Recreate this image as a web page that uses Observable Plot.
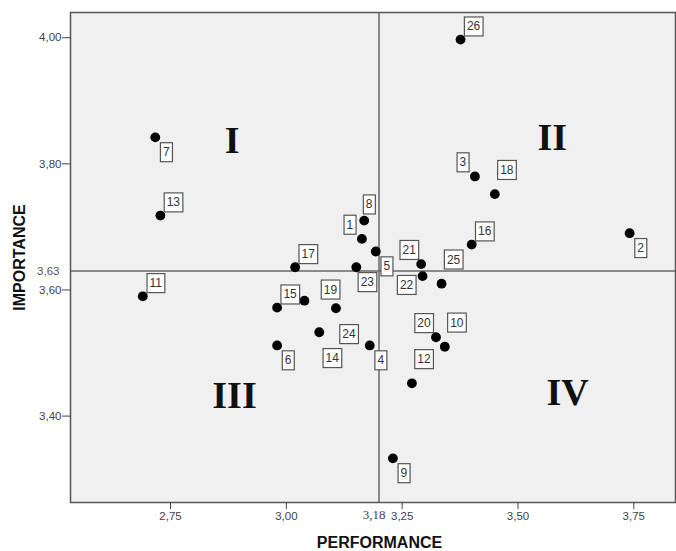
<!DOCTYPE html>
<html><head><meta charset="utf-8">
<script src="https://cdn.jsdelivr.net/npm/d3@7"></script>
<script src="https://cdn.jsdelivr.net/npm/@observablehq/plot@0.6"></script>
<style>
body{margin:0;background:#fff;}
#chart{position:relative;width:676px;height:551px;}
</style>
</head><body><div id="chart"></div>
<script>
// Items (attributes) of the importance-performance analysis
const itemIds = [1,2,3,4,5,6,7,8,9,10,11,12,13,14,15,16,17,18,19,20,21,22,23,24,25,26];
const performance = [3.163,3.741,3.407,3.180,3.193,2.980,2.717,3.168,3.230,3.342,2.690,3.271,2.728,
                     3.071,2.980,3.400,3.019,3.450,3.039,3.323,3.291,3.294,3.151,3.107,3.335,3.376];
const importance  = [3.681,3.690,3.780,3.512,3.661,3.512,3.842,3.710,3.333,3.510,3.590,3.452,3.718,
                     3.533,3.572,3.672,3.636,3.752,3.583,3.525,3.641,3.622,3.636,3.571,3.610,3.997];
// where the id box sits relative to its point
const labelPlacement = ["nw","se","nw","se","se","se","se","n","se","NE","ne","NE","ne",
                        "SE","ne","ne","ne","NE","e","nw","nw","sw","se","SE","NE","ne"];

const quadrantNames = ["I","II","III","IV"];
const quadrantPerformance = [2.883,3.574,2.888,3.607];
const quadrantImportance  = [3.837,3.841,3.432,3.437];

const xTicks = [2.75,3.00,3.25,3.50,3.75];
const yTicks = [3.40,3.60,3.80,4.00];
const refPerformance = 3.20, refPerformanceLabel = "3,18";
const refImportance = 3.63, refImportanceLabel = "3,63";
const xTitle = "PERFORMANCE", yTitle = "IMPORTANCE";

const fmt = d => d.toFixed(2).replace(".", ",");
const offsets = {ne:[13,-13], NE:[12,-24], se:[11,15], SE:[13,26], nw:[-12,-14], sw:[-16,9], n:[5,-16], e:[26,-11]};
const data = itemIds.map((id,i)=>({id:String(id), x:performance[i], y:importance[i], p:labelPlacement[i]}));
const quads = quadrantNames.map((n,i)=>({n, x:quadrantPerformance[i], y:quadrantImportance[i]}));

const labelMarks = Object.entries(offsets).map(([k,[dx,dy]]) =>
  Plot.text(data.filter(d=>d.p===k), {x:"x", y:"y", text:"id", dx, dy, fill:"#333",
    fontSize:12, fontFamily:"Arial, 'Liberation Sans', sans-serif", className:"idlab"}));

const chart = Plot.plot({
  width:676, height:551, marginLeft:70, marginRight:1, marginTop:12, marginBottom:49,
  style:{fontFamily:"Arial, 'Liberation Sans', sans-serif", fontSize:"11.5px", color:"#444", background:"#fff", overflow:"visible"},
  x:{domain:[2.534,3.84], label:null},
  y:{domain:[3.263,4.04], label:null},
  marks:[
    Plot.frame({fill:"#f0f0f0", stroke:null}),
    Plot.ruleX([refPerformance], {stroke:"#6a6a6a", strokeWidth:1.5}),
    Plot.ruleY([refImportance], {stroke:"#6a6a6a", strokeWidth:1.5}),
    Plot.frame({stroke:"#555", strokeWidth:1.5}),
    Plot.axisX({ticks:xTicks, tickFormat:fmt, tickSize:7, tickPadding:2, stroke:"#444", fill:"#444", label:null}),
    Plot.axisY({ticks:yTicks, tickFormat:fmt, tickSize:8, tickPadding:1, stroke:"#444", fill:"#444", label:null}),
    Plot.text([refImportance], {y:d=>d, frameAnchor:"left", text:()=>refImportanceLabel, textAnchor:"end", dx:-11, fill:"#555", fontSize:11.5}),
    Plot.text([refPerformance], {x:d=>d, frameAnchor:"bottom", text:()=>refPerformanceLabel, dx:-5, dy:16, fill:"#444",
      fontSize:13, fontFamily:"'Liberation Serif', 'Times New Roman', serif"}),
    Plot.dot(data, {x:"x", y:"y", r:4.9, fill:"#000", stroke:null}),
    ...labelMarks,
    Plot.text(quads, {x:"x", y:"y", text:"n", fontSize:38, fontWeight:"bold", fill:"#111",
      fontFamily:"'Liberation Serif', 'Times New Roman', serif"}),
    Plot.text([yTitle], {frameAnchor:"left", text:d=>d, rotate:-90, textAnchor:"middle", lineAnchor:"middle", dx:-51, dy:0, fontSize:16, fontWeight:"bold", fill:"#111"}),
    Plot.text([xTitle], {frameAnchor:"bottom", text:d=>d, textAnchor:"middle", lineAnchor:"middle", dx:6.5, dy:40, fontSize:16, fontWeight:"bold", fill:"#111"})
  ]
});
document.getElementById("chart").append(chart);

// white boxes behind the item ids, sized from the rendered text
chart.querySelectorAll("g.idlab text").forEach(t=>{
  const b = t.getBBox();
  const r = document.createElementNS("http://www.w3.org/2000/svg","rect");
  const padX = 2.5, padY = 2.5;
  r.setAttribute("x", b.x - padX); r.setAttribute("y", b.y - padY);
  r.setAttribute("width", b.width + 2*padX); r.setAttribute("height", b.height + 2*padY);
  r.setAttribute("fill", "#fff"); r.setAttribute("stroke", "#555"); r.setAttribute("stroke-width", 1.2);
  const tr = t.getAttribute("transform");
  if (tr) r.setAttribute("transform", tr);
  t.parentNode.insertBefore(r, t);
});
</script>
</body></html>
